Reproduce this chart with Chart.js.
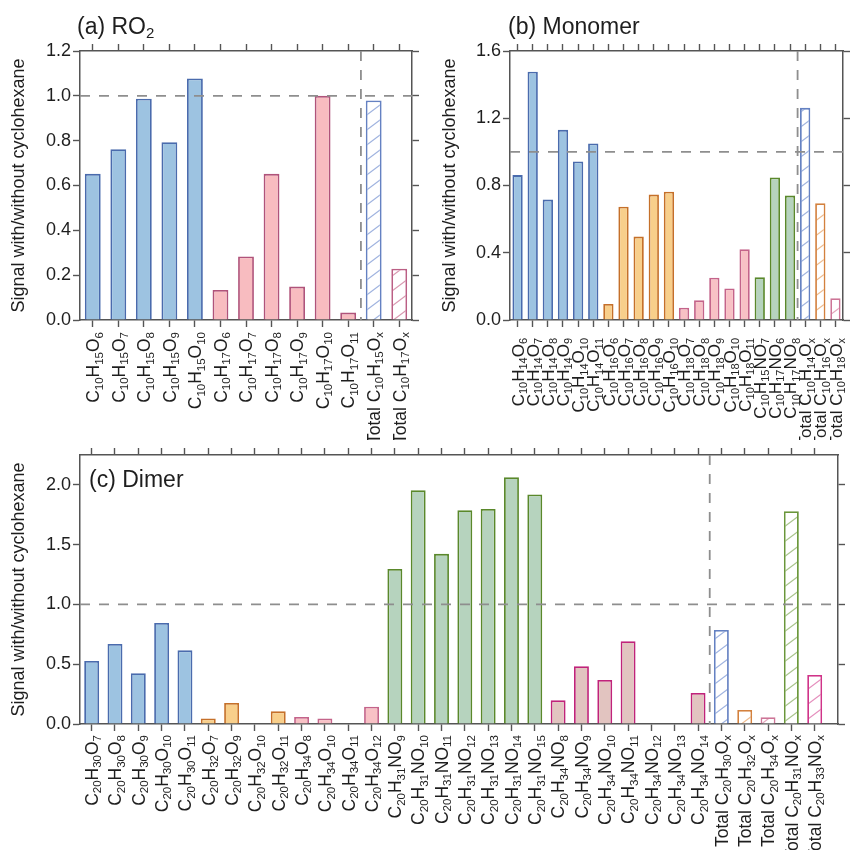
<!DOCTYPE html>
<html><head><meta charset="utf-8">
<script src="https://cdn.jsdelivr.net/npm/chart.js@4"></script>
<style>
html,body{margin:0;padding:0;background:#fff;width:850px;height:850px;overflow:hidden;position:relative}
canvas{position:absolute}
</style></head><body>
<canvas id="ca" width="430" height="440" style="left:0;top:0"></canvas>
<canvas id="cb" width="420" height="440" style="left:430px;top:0"></canvas>
<canvas id="cc" width="850" height="410" style="left:0;top:440px"></canvas>
<script>
// ---------------- data ----------------
const categoriesA = ['C10H15O6','C10H15O7','C10H15O8','C10H15O9','C10H15O10','C10H17O6','C10H17O7','C10H17O8','C10H17O9','C10H17O10','C10H17O11','Total C10H15Ox','Total C10H17Ox'];
const valuesA = [0.652,0.762,0.987,0.793,1.077,0.134,0.283,0.652,0.149,1.000,0.033,0.979,0.229];
const groupsA = ['blue','blue','blue','blue','blue','rose','rose','rose','rose','rose','rose','blue','rose'];
const yTicksA = [0,0.2,0.4,0.6,0.8,1.0,1.2];

const categoriesB = ['C10H14O6','C10H14O7','C10H14O8','C10H14O9','C10H14O10','C10H14O11','C10H16O6','C10H16O7','C10H16O8','C10H16O9','C10H16O10','C10H18O7','C10H18O8','C10H18O9','C10H18O10','C10H18O11','C10H15NO7','C10H17NO6','C10H17NO8','Total C10H14Ox','Total C10H16Ox','Total C10H18Ox'];
const valuesB = [0.862,1.477,0.716,1.131,0.943,1.050,0.095,0.674,0.496,0.746,0.763,0.073,0.117,0.251,0.188,0.421,0.255,0.848,0.740,1.262,0.694,0.129];
const groupsB = ['blue','blue','blue','blue','blue','blue','orange','orange','orange','orange','orange','pink','pink','pink','pink','pink','green','green','green','blue','orange','pink'];
const yTicksB = [0,0.4,0.8,1.2,1.6];

const categoriesC = ['C20H30O7','C20H30O8','C20H30O9','C20H30O10','C20H30O11','C20H32O7','C20H32O9','C20H32O10','C20H32O11','C20H34O8','C20H34O10','C20H34O11','C20H34O12','C20H31NO9','C20H31NO10','C20H31NO11','C20H31NO12','C20H31NO13','C20H31NO14','C20H31NO15','C20H34NO8','C20H34NO9','C20H34NO10','C20H34NO11','C20H34NO12','C20H34NO13','C20H34NO14','Total C20H30Ox','Total C20H32Ox','Total C20H34Ox','Total C20H31NOx','Total C20H33NOx'];
const valuesC = [0.527,0.669,0.424,0.845,0.616, 0.047,0.176,null,0.106, 0.059,0.047,null,0.145, 1.297,1.955,1.423,1.788,1.799,2.064,1.919, 0.198,0.483,0.368,0.692,null,null,0.259, 0.787,0.117,0.056,1.779,0.410];
const groupsC = ['blue','blue','blue','blue','blue','orange','orange','orange','orange','pink','pink','pink','pink','green','green','green','green','green','green','green','mauve','mauve','mauve','mauve','mauve','mauve','mauve','blue','orange','pink','green','mauve'];
const yTicksC = [0,0.5,1.0,1.5,2.0];

const referenceLevel = 1.0;
const yAxisTitle = 'Signal with/without cyclohexane';

// ---------------- styles ----------------
const FONT = '"Liberation Sans", Arial, Helvetica, sans-serif';
Chart.defaults.font.family = FONT;
const STYLE = {
  blue:   {fill:'#9dc3e1', line:'#4a6bad', tline:'#6481c2', hatch:'#9fb3df'},
  rose:   {fill:'#f8bcc0', line:'#b0537a', tline:'#bb5f85', hatch:'#d898b0'},
  orange: {fill:'#f8cf8b', line:'#c5702a', tline:'#d3813e', hatch:'#eebb8e'},
  pink:   {fill:'#f8c1c5', line:'#c4648a', tline:'#cd7597', hatch:'#e3a4bb'},
  green:  {fill:'#b6d3be', line:'#5a882b', tline:'#6a963a', hatch:'#a9c48c'},
  mauve:  {fill:'#e2c4c0', line:'#c0237a', tline:'#d03489', hatch:'#e58fbd'}
};
const AXIS = '#555';

function hatch(color){
  const W=20,H=15; const c=document.createElement('canvas'); c.width=W; c.height=H;
  const g=c.getContext('2d'); g.fillStyle='#fff'; g.fillRect(0,0,W,H);
  g.strokeStyle=color; g.lineWidth=1.2;
  for (const dx of [-W,0,W]) for (const dy of [-H,0,H]) {
    g.beginPath(); g.moveTo(dx,dy+H); g.lineTo(dx+W,dy); g.stroke();
  }
  return g.createPattern(c,'repeat');
}

function segs(s){
  const out=[];
  for (let i=0;i<s.length;i++){
    const ch=s[i];
    const sub = /\d/.test(ch) || (ch==='x' && i===s.length-1 && s[i-1]==='O');
    const last=out[out.length-1];
    if (last && last.sub===sub) last.t+=ch; else out.push({t:ch,sub});
  }
  return out;
}
function drawRich(ctx, text, x, y, size, subSize, drop, align){
  const parts=segs(text); let total=0;
  parts.forEach(p=>{ctx.font=`${p.sub?subSize:size}px ${FONT}`; p.w=ctx.measureText(p.t).width; total+=p.w;});
  let cx = align==='right' ? x-total : x;
  ctx.textAlign='left'; ctx.textBaseline='alphabetic';
  parts.forEach(p=>{ctx.font=`${p.sub?subSize:size}px ${FONT}`; ctx.fillText(p.t,cx,y+(p.sub?drop:0)); cx+=p.w;});
}

const overlayPlugin = {
  id:'overlay',
  afterDatasetsDraw(chart, args, o){
    const {ctx, chartArea:a, scales:{x,y}} = chart;
    ctx.save();
    ctx.strokeStyle='#8e8e8e'; ctx.lineWidth=1.8; ctx.setLineDash([10,9]);
    const yp = y.getPixelForValue(referenceLevel);
    ctx.beginPath(); ctx.moveTo(a.left,yp); ctx.lineTo(a.right,yp); ctx.stroke();
    const xp = x.getPixelForValue(o.divider);
    ctx.beginPath(); ctx.moveTo(xp,a.top); ctx.lineTo(xp,a.bottom); ctx.stroke();
    ctx.restore();
  },
  afterDraw(chart, args, o){
    const {ctx, chartArea:a, scales:{x}} = chart;
    ctx.save(); ctx.fillStyle='#1e1e1e';
    o.labels.forEach((lab,i)=>{
      const px = x.getPixelForValue(i);
      ctx.save(); ctx.translate(px + o.size*0.36, a.bottom + o.gap); ctx.rotate(-Math.PI/2);
      drawRich(ctx, lab, 0, 0, o.size, o.sub, o.size*0.2, 'right');
      ctx.restore();
    });
    drawRich(ctx, o.title, o.titleX, o.titleY, 23, 15, 4, 'left');
    ctx.restore();
  }
};

function makeChart(id, cfg){
  const canvas=document.getElementById(id);
  const W=canvas.width, H=canvas.height, g=cfg.geom;
  const isTotal = cfg.labels.map(l=>l.startsWith('Total'));
  const data = cfg.values.map((v,i)=>({x:i,y:v}));
  const bg = cfg.groups.map((k,i)=> isTotal[i] ? hatch(STYLE[k].hatch) : STYLE[k].fill);
  const bd = cfg.groups.map((k,i)=> isTotal[i] ? STYLE[k].tline : STYLE[k].line);
  const xTicks = cfg.labels.map((_,i)=>i);
  const setTicks = arr => s => { s.ticks = arr.map(v=>({value:v})); };
  const grid = {display:true, drawOnChartArea:false, drawTicks:true, tickLength:7, tickColor:AXIS, tickWidth:1.4, offset:false, color:AXIS};
  const border = {display:true, color:AXIS, width:1.5};
  const xMax = cfg.labels.length - 0.5 + (cfg.extraRight||0);
  new Chart(canvas,{
    type:'bar',
    data:{datasets:[{data, backgroundColor:bg, borderColor:bd, borderWidth:1.8, barPercentage:cfg.barPct, categoryPercentage:1}]},
    options:{
      responsive:false, animation:false, events:[],
      layout:{padding:0},
      plugins:{legend:{display:false}, tooltip:{enabled:false},
        overlay:{labels:cfg.labels, divider:isTotal.indexOf(true)-0.5, size:cfg.labelSize, sub:cfg.subSize, gap:cfg.gap, title:cfg.title, titleX:cfg.titleX, titleY:cfg.titleY}},
      scales:{
        x:{type:'linear', position:'bottom', min:-0.5, max:xMax, offset:false, z:1, grid, border, ticks:{display:false},
           afterBuildTicks:setTicks(xTicks), afterFit:s=>{s.height=H-g.bottom;}},
        x2:{type:'linear', position:'top', min:-0.5, max:xMax, offset:false, z:1, grid, border, ticks:{display:false},
           afterBuildTicks:setTicks(xTicks), afterFit:s=>{s.height=g.top;}},
        y:{type:'linear', position:'left', min:0, max:cfg.yMax, z:1, grid, border,
           ticks:{font:{size:18}, color:'#1e1e1e', padding:2, callback:v=>Number(v).toFixed(1)},
           title:{display:true, text:yAxisTitle, font:{size:18}, color:'#1e1e1e', padding:{top:cfg.yTitlePad,bottom:0}},
           afterBuildTicks:setTicks(cfg.yTicks), afterFit:s=>{s.width=g.left;}},
        y2:{type:'linear', position:'right', min:0, max:cfg.yMax, z:1, grid, border, ticks:{display:false},
           afterBuildTicks:setTicks(cfg.yTicks), afterFit:s=>{s.width=W-g.right;}}
      }
    },
    plugins:[overlayPlugin]
  });
}

makeChart('ca',{labels:categoriesA, values:valuesA, groups:groupsA, yTicks:yTicksA, yMax:1.2,
  geom:{left:80,right:412,top:51,bottom:320}, barPct:0.62, labelSize:17.5, subSize:11.5, gap:12,
  title:'(a) RO2', titleX:77, titleY:34, yTitlePad:8});
makeChart('cb',{labels:categoriesB, values:valuesB, groups:groupsB, yTicks:yTicksB, yMax:1.6,
  geom:{left:80,right:413,top:51,bottom:320}, barPct:0.68, labelSize:17, subSize:11, gap:18,
  title:'(b) Monomer', titleX:78, titleY:34, yTitlePad:9});
makeChart('cc',{labels:categoriesC, values:valuesC, groups:groupsC, yTicks:yTicksC, yMax:2.25, extraRight:0.5,
  geom:{left:80,right:838,top:15,bottom:284}, barPct:0.64, labelSize:17.5, subSize:11.5, gap:11,
  title:'(c) Dimer', titleX:89, titleY:47, yTitlePad:8});
</script>
</body></html>
